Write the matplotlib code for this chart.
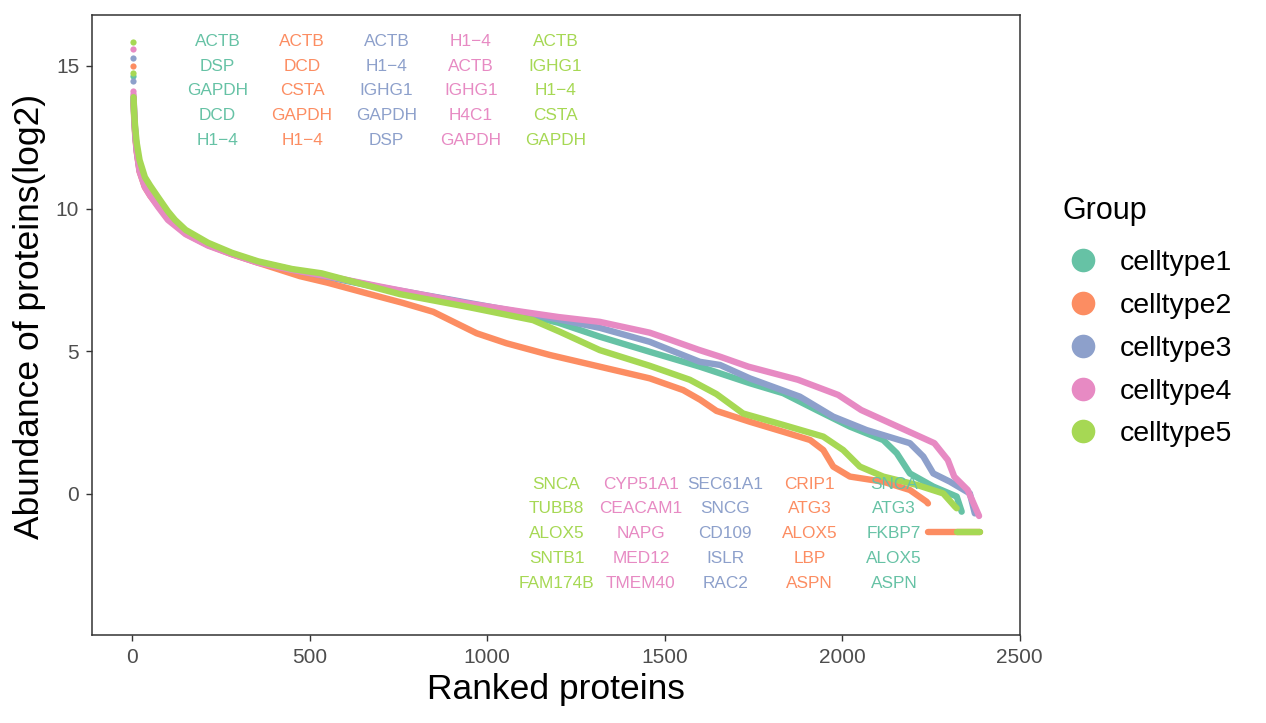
import matplotlib
matplotlib.use("Agg")
import matplotlib.pyplot as plt
from matplotlib.lines import Line2D

plt.rcParams['font.family'] = ['Liberation Sans', 'DejaVu Sans']

groups = ["celltype1", "celltype2", "celltype3", "celltype4", "celltype5"]
colors = ["#66C2A5", "#FC8D62", "#8DA0CB", "#E78AC3", "#A6D854"]

# highest-ranked proteins (drawn as single dots)
top_rank = {
    "celltype1": [1],
    "celltype2": [1],
    "celltype3": [1, 2],
    "celltype4": [1, 2],
    "celltype5": [1, 2],
}
top_value = {
    "celltype1": [14.63],
    "celltype2": [14.98],
    "celltype3": [15.27, 14.48],
    "celltype4": [15.59, 14.13],
    "celltype5": [15.85, 14.75],
}

# ranked abundance curves
rank1 = [3, 5, 8, 12, 20, 35, 50, 72, 100, 150, 213, 280, 354, 450, 550, 700, 900,
         1100, 1200, 1317, 1458, 1599, 1740, 1834, 1928, 1975, 2022, 2116, 2154,
         2191, 2257, 2323, 2337]
abund1 = [13.8, 13.2, 12.6, 12.1, 11.4, 10.8, 10.5, 10.15, 9.7, 9.15, 8.75, 8.42,
          8.12, 7.85, 7.6, 7.22, 6.78, 6.3, 6.0, 5.51, 4.98, 4.46, 3.88, 3.53, 2.94,
          2.65, 2.36, 1.89, 1.43, 0.72, 0.26, -0.09, -0.62]

rank2 = [3, 5, 8, 12, 20, 35, 50, 72, 100, 150, 213, 280, 354, 472, 550, 660, 760,
         848, 895, 970, 1054, 1176, 1317, 1458, 1552, 1600, 1646, 1740, 1834, 1910,
         1947, 1975, 2022, 2116, 2191, 2238, 2242]
abund2 = [13.7, 13.1, 12.5, 12.0, 11.3, 10.75, 10.45, 10.1, 9.65, 9.12, 8.72, 8.4,
          8.1, 7.63, 7.4, 7.03, 6.7, 6.38, 6.09, 5.63, 5.28, 4.87, 4.46, 4.05, 3.64,
          3.3, 2.91, 2.53, 2.18, 1.89, 1.54, 0.96, 0.61, 0.43, 0.14, -0.27, -0.33]

rank3 = [3, 5, 8, 12, 20, 35, 50, 72, 100, 150, 213, 280, 354, 450, 550, 700, 900,
         1100, 1200, 1317, 1458, 1599, 1656, 1740, 1881, 1975, 2069, 2191, 2229,
         2257, 2304, 2360, 2374]
abund3 = [13.9, 13.25, 12.6, 12.05, 11.35, 10.8, 10.5, 10.12, 9.68, 9.13, 8.73,
          8.42, 8.12, 7.86, 7.62, 7.24, 6.8, 6.35, 6.12, 5.82, 5.33, 4.63, 4.52,
          4.05, 3.41, 2.71, 2.24, 1.78, 1.31, 0.72, 0.43, 0.02, -0.68]

rank4 = [3, 5, 8, 12, 20, 35, 50, 72, 100, 150, 213, 280, 354, 450, 550, 700, 942,
         1100, 1200, 1317, 1458, 1505, 1596, 1656, 1736, 1876, 1989, 2054, 2157,
         2260, 2298, 2316, 2354, 2386]
abund4 = [14.0, 13.3, 12.6, 12.0, 11.3, 10.75, 10.45, 10.06, 9.6, 9.1, 8.7, 8.4,
          8.1, 7.85, 7.63, 7.26, 6.68, 6.38, 6.2, 6.03, 5.65, 5.45, 5.05, 4.81, 4.46,
          4.0, 3.47, 2.94, 2.36, 1.78, 1.19, 0.61, 0.14, -0.77]

rank5 = [3, 5, 8, 12, 20, 35, 50, 72, 100, 120, 150, 213, 280, 354, 450, 533, 754,
         942, 1129, 1205, 1317, 1458, 1571, 1646, 1721, 1834, 1947, 2003, 2050, 2116,
         2210, 2285, 2318, 2323]
abund5 = [13.9, 13.3, 12.8, 12.3, 11.7, 11.1, 10.8, 10.4, 9.9, 9.6, 9.25, 8.8, 8.45,
          8.15, 7.88, 7.73, 7.0, 6.56, 6.09, 5.68, 5.04, 4.49, 4.0, 3.5, 2.82, 2.42,
          2.01, 1.54, 0.96, 0.61, 0.32, 0.02, -0.44, -0.5]

ranks = [rank1, rank2, rank3, rank4, rank5]
abunds = [abund1, abund2, abund3, abund4, abund5]

# proteins filled with the minimum value (flat run at the bottom)
floor_value = -1.34
floor_ranks = {
    "celltype2": [2243, 2388],
    "celltype5": [2324, 2388],
}

# top 5 and bottom 5 proteins of each group
top_genes = [
    ["ACTB", "DSP", "GAPDH", "DCD", "H1\u22124"],
    ["ACTB", "DCD", "CSTA", "GAPDH", "H1\u22124"],
    ["ACTB", "H1\u22124", "IGHG1", "GAPDH", "DSP"],
    ["H1\u22124", "ACTB", "IGHG1", "H4C1", "GAPDH"],
    ["ACTB", "IGHG1", "H1\u22124", "CSTA", "GAPDH"],
]
bottom_genes = [
    ["SNCA", "ATG3", "FKBP7", "ALOX5", "ASPN"],
    ["CRIP1", "ATG3", "ALOX5", "LBP", "ASPN"],
    ["SEC61A1", "SNCG", "CD109", "ISLR", "RAC2"],
    ["CYP51A1", "CEACAM1", "NAPG", "MED12", "TMEM40"],
    ["SNCA", "TUBB8", "ALOX5", "SNTB1", "FAM174B"],
]

fig = plt.figure(figsize=(12.66, 7.23), dpi=100)
ax = fig.add_axes([0.0724, 0.1217, 0.7329, 0.8576])

for i, g in enumerate(groups):
    line_kw = dict(color=colors[i], lw=4.6, solid_capstyle='round',
                   solid_joinstyle='round', zorder=2 + i)
    ax.plot(ranks[i], abunds[i], **line_kw)
    if g in floor_ranks:
        ax.plot(floor_ranks[g], [floor_value] * len(floor_ranks[g]), **line_kw)
    ax.scatter(top_rank[g], top_value[g], color=colors[i], s=20,
               linewidths=0, zorder=2 + i)

top_max = max(max(v) for v in top_value.values())
row_step = 0.865
for i in range(len(groups)):
    for j in range(5):
        ax.text(240 + 238 * i, top_max - row_step * j, top_genes[i][j],
                color=colors[i], fontsize=12.4, ha='center', va='center', zorder=10)
        ax.text(2147 - 238 * i, floor_value - 0.05 + row_step * (2 - j),
                bottom_genes[i][j], color=colors[i], fontsize=12.4,
                ha='center', va='center', zorder=10)

ax.set_xlim(-115, 2500)
ax.set_ylim(-4.94, 16.78)
ax.set_xticks([0, 500, 1000, 1500, 2000, 2500])
ax.set_yticks([0, 5, 10, 15])
ax.tick_params(direction='out', length=4.5, width=1.0, color='#333333',
               labelsize=15, labelcolor='#4D4D4D', pad=4.5)
for s in ax.spines.values():
    s.set_color('#333333')
    s.set_linewidth(1.1)

ax.set_xlabel("Ranked proteins", fontsize=25.5, labelpad=5)
ax.set_ylabel("Abundance of proteins(log2)", fontsize=25.5)
ax.yaxis.set_label_coords(-0.049, 0.513)

fig.text(1062 / 1266, 1 - 211 / 723, "Group", fontsize=22, ha='left', va='center')
handles = [Line2D([], [], marker='o', linestyle='none', markersize=17,
                  markerfacecolor=c, markeredgewidth=0) for c in colors]
leg = fig.legend(handles, groups, loc='upper left',
                 bbox_to_anchor=(0.8389, 0.654), frameon=False, fontsize=20.5,
                 labelspacing=0.59, handlelength=1.47,
                 handletextpad=0.56, borderpad=0, borderaxespad=0)

fig.savefig("out.png", dpi=100)
